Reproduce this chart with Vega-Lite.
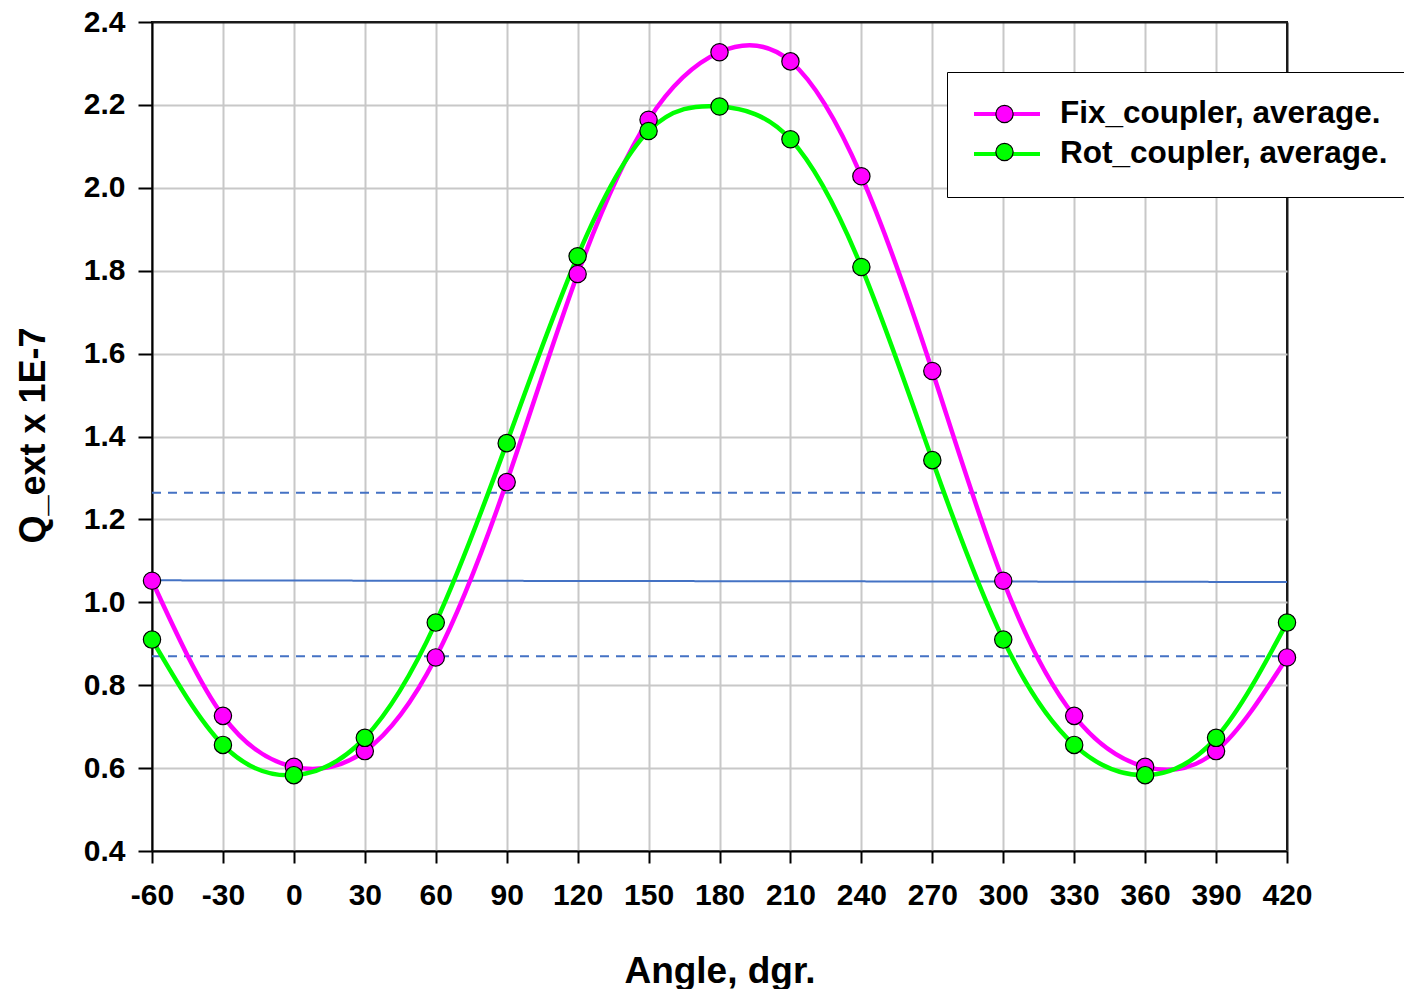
{
  "$schema": "https://vega.github.io/schema/vega-lite/v6.json",
  "width": 1135,
  "height": 829,
  "autosize": {"type": "none"},
  "padding": {"left": 152, "top": 22, "right": 117, "bottom": 138},
  "background": "white",
  "config": {
    "font": "Liberation Sans",
    "view": {"stroke": "#1a1a1a", "strokeWidth": 2},
    "axis": {
      "labelFont": "Liberation Sans",
      "labelFontSize": 30,
      "labelFontWeight": "bold",
      "labelColor": "black",
      "titleFont": "Liberation Sans",
      "titleFontWeight": "bold",
      "titleColor": "black",
      "domainColor": "black",
      "domainWidth": 2,
      "tickColor": "black",
      "tickWidth": 2,
      "gridWidth": 2,
      "labelFlush": false,
      "labelOverlap": false
    }
  },
  "datasets": {
    "curves": [
      {"angle": -60, "q": 1.052, "series": "Fix_coupler, average."},
      {"angle": -30, "q": 0.726, "series": "Fix_coupler, average."},
      {"angle": 0, "q": 0.603, "series": "Fix_coupler, average."},
      {"angle": 30, "q": 0.641, "series": "Fix_coupler, average."},
      {"angle": 60, "q": 0.867, "series": "Fix_coupler, average."},
      {"angle": 90, "q": 1.290, "series": "Fix_coupler, average."},
      {"angle": 120, "q": 1.792, "series": "Fix_coupler, average."},
      {"angle": 150, "q": 2.164, "series": "Fix_coupler, average."},
      {"angle": 180, "q": 2.327, "series": "Fix_coupler, average."},
      {"angle": 210, "q": 2.305, "series": "Fix_coupler, average."},
      {"angle": 240, "q": 2.028, "series": "Fix_coupler, average."},
      {"angle": 270, "q": 1.558, "series": "Fix_coupler, average."},
      {"angle": 300, "q": 1.052, "series": "Fix_coupler, average."},
      {"angle": 330, "q": 0.726, "series": "Fix_coupler, average."},
      {"angle": 360, "q": 0.603, "series": "Fix_coupler, average."},
      {"angle": 390, "q": 0.641, "series": "Fix_coupler, average."},
      {"angle": 420, "q": 0.867, "series": "Fix_coupler, average."},
      {"angle": -60, "q": 0.910, "series": "Rot_coupler, average."},
      {"angle": -30, "q": 0.656, "series": "Rot_coupler, average."},
      {"angle": 0, "q": 0.583, "series": "Rot_coupler, average."},
      {"angle": 30, "q": 0.673, "series": "Rot_coupler, average."},
      {"angle": 60, "q": 0.951, "series": "Rot_coupler, average."},
      {"angle": 90, "q": 1.384, "series": "Rot_coupler, average."},
      {"angle": 120, "q": 1.835, "series": "Rot_coupler, average."},
      {"angle": 150, "q": 2.137, "series": "Rot_coupler, average."},
      {"angle": 180, "q": 2.196, "series": "Rot_coupler, average."},
      {"angle": 210, "q": 2.117, "series": "Rot_coupler, average."},
      {"angle": 240, "q": 1.809, "series": "Rot_coupler, average."},
      {"angle": 270, "q": 1.343, "series": "Rot_coupler, average."},
      {"angle": 300, "q": 0.910, "series": "Rot_coupler, average."},
      {"angle": 330, "q": 0.656, "series": "Rot_coupler, average."},
      {"angle": 360, "q": 0.583, "series": "Rot_coupler, average."},
      {"angle": 390, "q": 0.673, "series": "Rot_coupler, average."},
      {"angle": 420, "q": 0.951, "series": "Rot_coupler, average."}
    ],
    "refs": [
      {"angle": -60, "q": 1.053, "line": "mean", "style": "solid"},
      {"angle": 420, "q": 1.049, "line": "mean", "style": "solid"},
      {"angle": -60, "q": 1.264, "line": "upper", "style": "dashed"},
      {"angle": 420, "q": 1.264, "line": "upper", "style": "dashed"},
      {"angle": -60, "q": 0.870, "line": "lower", "style": "dashed"},
      {"angle": 420, "q": 0.870, "line": "lower", "style": "dashed"}
    ]
  },
  "encoding": {
    "x": {
      "field": "angle",
      "type": "quantitative",
      "scale": {"domain": [-60, 420], "nice": false, "zero": false},
      "axis": {
        "values": [-60, -30, 0, 30, 60, 90, 120, 150, 180, 210, 240, 270, 300, 330, 360, 390, 420],
        "labelExpr": "'' + datum.value",
        "title": "Angle, dgr.",
        "titleFontSize": 37,
        "titleBaseline": "alphabetic",
        "titleY": 131,
        "tickSize": 12,
        "labelPadding": 17,
        "gridColor": {"condition": {"test": "datum.value >= 419", "value": "#1a1a1a"}, "value": "#c8c8c8"}
      }
    },
    "y": {
      "field": "q",
      "type": "quantitative",
      "scale": {"domain": [0.4, 2.4], "nice": false, "zero": false},
      "axis": {
        "values": [0.4, 0.6, 0.8, 1.0, 1.2, 1.4, 1.6, 1.8, 2.0, 2.2, 2.4],
        "format": ".1f",
        "title": "Q_ext x 1E-7",
        "titleFontSize": 36,
        "titleBaseline": "alphabetic",
        "titleAngle": 270,
        "titleX": -108,
        "titleY": 413,
        "tickSize": 14,
        "labelPadding": 13,
        "gridColor": {"condition": {"test": "datum.value >= 2.39", "value": "#1a1a1a"}, "value": "#c8c8c8"}
      }
    }
  },
  "layer": [
    {
      "data": {"name": "refs"},
      "mark": {"type": "line", "color": "#4472C4", "strokeWidth": 2},
      "encoding": {
        "detail": {"field": "line", "type": "nominal"},
        "strokeDash": {
          "field": "style",
          "type": "nominal",
          "scale": {"domain": ["solid", "dashed"], "range": [[1, 0], [9, 7]]},
          "legend": null
        }
      }
    },
    {
      "data": {"name": "curves"},
      "mark": {"type": "line", "interpolate": "natural", "strokeWidth": 4.5},
      "encoding": {
        "stroke": {
          "field": "series",
          "type": "nominal",
          "scale": {"domain": ["Fix_coupler, average.", "Rot_coupler, average."], "range": ["#FF00FF", "#00FF00"]},
          "legend": {
            "title": null,
            "orient": "none",
            "legendX": 795,
            "legendY": 50,
            "direction": "vertical",
            "fillColor": "white",
            "strokeColor": "black",
            "padding": 27,
            "symbolType": "stroke",
            "symbolSize": 5041,
            "symbolStrokeWidth": 4,
            "clipHeight": 30,
            "rowPadding": 8,
            "labelFont": "Liberation Sans",
            "labelFontSize": 31.5,
            "labelFontWeight": "bold",
            "labelColor": "black",
            "labelLimit": 600,
            "symbolOffset": -7,
            "labelOffset": 18,
            "zindex": 1
          }
        }
      }
    },
    {
      "data": {"name": "curves"},
      "mark": {"type": "circle", "size": 300, "stroke": "black", "strokeWidth": 1.2, "opacity": 1},
      "encoding": {
        "fill": {
          "field": "series",
          "type": "nominal",
          "scale": {"range": ["#FF00FF", "#00FF00"]},
          "legend": {
            "title": null,
            "orient": "none",
            "legendX": 795,
            "legendY": 50,
            "direction": "vertical",
            "padding": 27,
            "symbolType": "circle",
            "symbolSize": 300,
            "symbolStrokeColor": "black",
            "symbolStrokeWidth": 1.2,
            "symbolOpacity": 1,
            "clipHeight": 30,
            "rowPadding": 8,
            "labelFontSize": 30,
            "labelExpr": "''",
            "symbolOffset": 15.5,
            "zindex": 2
          }
        }
      }
    }
  ]
}
